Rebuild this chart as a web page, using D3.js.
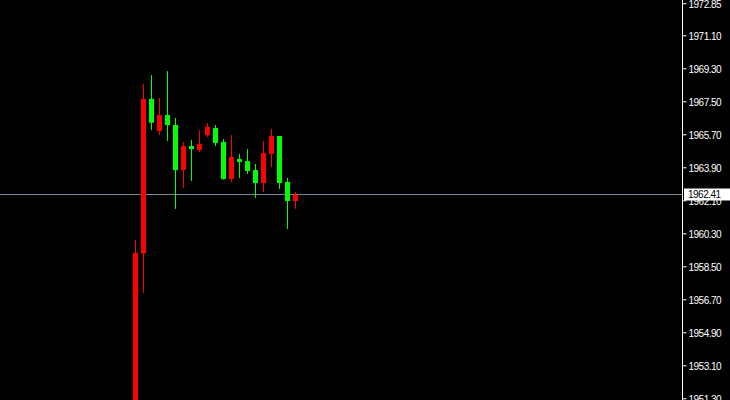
<!DOCTYPE html>
<html>
<head>
<meta charset="utf-8">
<script src="https://cdn.jsdelivr.net/npm/d3@7"></script>
<style>
  html, body { margin: 0; padding: 0; background: #000; }
  svg { display: block; }
</style>
</head>
<body>
<svg id="chart" width="730" height="400"></svg>
<script>
// ---- data ----
const opens  = [1950.80, 1959.20, 1967.63, 1965.88, 1966.75, 1966.21, 1963.75, 1965.06, 1964.84, 1965.66, 1966.04, 1965.28, 1963.26, 1964.35, 1964.24, 1963.75, 1963.04, 1964.63, 1965.61, 1963.10, 1962.06];
const highs  = [1959.93, 1968.44, 1968.93, 1967.68, 1969.15, 1966.59, 1965.28, 1965.39, 1965.93, 1966.32, 1966.21, 1965.44, 1965.66, 1964.63, 1964.90, 1964.08, 1965.33, 1965.99, 1965.61, 1963.32, 1962.55];
const lows   = [1950.50, 1957.04, 1965.93, 1965.66, 1965.33, 1961.63, 1962.77, 1963.15, 1964.73, 1965.55, 1965.06, 1963.22, 1963.10, 1963.32, 1963.53, 1962.23, 1962.55, 1963.92, 1962.72, 1960.53, 1961.63];
const closes = [1959.23, 1967.63, 1966.33, 1966.75, 1966.21, 1963.75, 1965.06, 1964.90, 1965.17, 1966.10, 1965.23, 1963.26, 1964.46, 1964.19, 1963.70, 1963.04, 1964.68, 1965.61, 1963.04, 1962.06, 1962.41];
const tickLabels = ["1951.30","1953.10","1954.90","1956.70","1958.50","1960.30","1962.10","1963.90","1965.70","1967.50","1969.30","1971.10","1972.85"];
const currentPrice = 1962.41;

// ---- layout ----
const W = 730, H = 400;
const axisX = 682.5;
const svg = d3.select("#chart");
svg.append("rect").attr("width", W).attr("height", H).attr("fill", "#000");

const y = d3.scaleLinear().domain([1951.30, 1969.30]).range([398.3, 68.3]);
const x = d3.scaleLinear().domain([0, 1]).range([135.5, 143.5]);
const bodyW = 5;

const upCol = "#ff0000", dnCol = "#00ff00";
const idx = d3.range(opens.length);

// price line
const lineY = Math.floor(y(currentPrice)) + 0.5;
svg.append("line")
  .attr("x1", 0).attr("x2", axisX)
  .attr("y1", lineY).attr("y2", lineY)
  .attr("stroke", "#778899").attr("stroke-width", 1);

const g = svg.append("g");
// wicks
g.selectAll("line.wick").data(idx).join("line")
  .attr("class", "wick")
  .attr("x1", i => x(i)).attr("x2", i => x(i))
  .attr("y1", i => y(highs[i])).attr("y2", i => y(lows[i]))
  .attr("stroke", i => closes[i] >= opens[i] ? upCol : dnCol)
  .attr("stroke-width", 1);
// bodies
g.selectAll("rect.body").data(idx).join("rect")
  .attr("class", "body")
  .attr("x", i => x(i) - bodyW / 2)
  .attr("width", bodyW)
  .attr("y", i => y(Math.max(opens[i], closes[i])))
  .attr("height", i => Math.max(1, Math.abs(y(opens[i]) - y(closes[i]))))
  .attr("fill", i => closes[i] >= opens[i] ? upCol : dnCol);

// right axis
svg.append("line")
  .attr("x1", axisX).attr("x2", axisX).attr("y1", 0).attr("y2", H)
  .attr("stroke", "#fff").attr("stroke-width", 1);

const axis = d3.axisRight(y)
  .tickValues(tickLabels.map(Number))
  .tickFormat((d, i) => tickLabels[i])
  .tickSize(4).tickSizeOuter(0).tickPadding(2);

const ag = svg.append("g").attr("transform", `translate(${axisX},0)`).call(axis);
ag.select(".domain").remove();
ag.selectAll(".tick line").attr("stroke", "#fff");
ag.selectAll(".tick text")
  .attr("fill", "#fff")
  .attr("dy", "0.4em")
  .style("font-family", "'Liberation Sans', Arial, sans-serif")
  .style("font-size", "10px")
  .style("letter-spacing", "-0.5px");

// current price label
svg.append("rect")
  .attr("x", 684).attr("y", lineY - 6).attr("width", 46).attr("height", 12)
  .attr("fill", "#fff");
svg.append("text")
  .attr("x", 688).attr("y", lineY + 3.8)
  .attr("fill", "#000")
  .style("font-family", "'Liberation Sans', Arial, sans-serif")
  .style("font-size", "10px")
  .style("letter-spacing", "-0.5px")
  .text(currentPrice.toFixed(2));
</script>
</body>
</html>
